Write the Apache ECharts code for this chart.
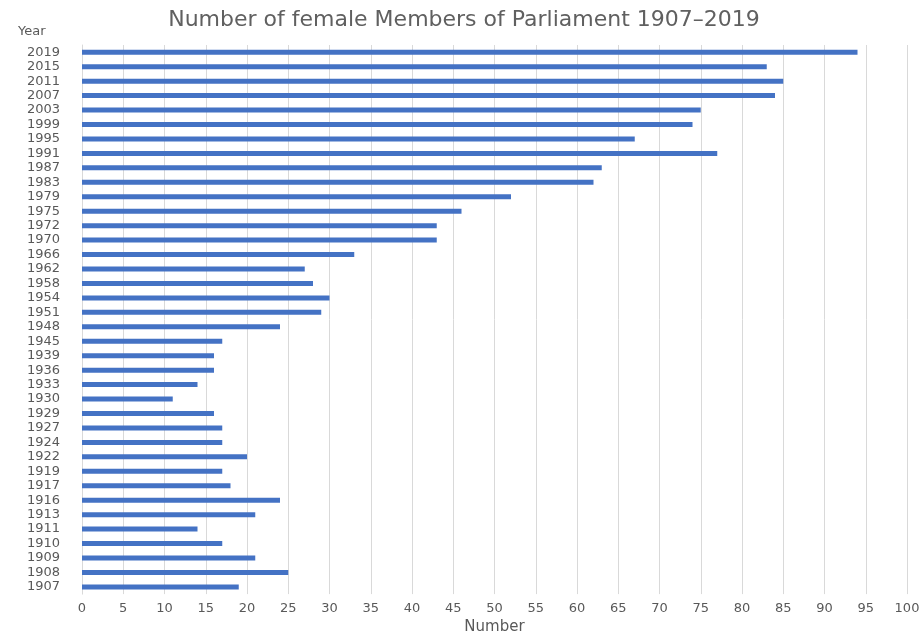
<!DOCTYPE html>
<html>
<head>
<meta charset="utf-8">
<script src="https://cdn.jsdelivr.net/npm/echarts@6/dist/echarts.min.js"></script>
<style>html,body{margin:0;padding:0;background:#fff}#c{width:923px;height:640px}</style>
</head>
<body>
<div id="c"></div>
<script>
const years = ['1907','1908','1909','1910','1911','1913','1916','1917','1919','1922','1924','1927','1929','1930','1933','1936','1939','1945','1948','1951','1954','1958','1962','1966','1970','1972','1975','1979','1983','1987','1991','1995','1999','2003','2007','2011','2015','2019'];
const womenMPs = [19,25,21,17,14,21,24,18,17,20,17,17,16,11,14,16,16,17,24,29,30,28,27,33,43,43,46,52,62,63,77,67,74,75,84,85,83,94];
const titleText = 'Number of female Members of Parliament 1907\u20132019';
const xAxisName = 'Number';
const yAxisName = 'Year';

const FONT = 'DejaVu Sans';
const chart = echarts.init(document.getElementById('c'));
chart.setOption({
  animation: false,
  backgroundColor: '#fff',
  title: {
    text: titleText,
    left: 459, textAlign: 'center',
    top: 4,
    textStyle: {color: '#606060', fontSize: 22, fontWeight: 'normal', fontFamily: FONT}
  },
  graphic: [{
    type: 'text', left: 18, top: 25,
    style: {text: yAxisName, fill: '#595959', fontSize: 13, fontFamily: FONT}
  }],
  grid: {left: 82, right: 16, top: 45, bottom: 36},
  xAxis: {
    type: 'value', min: 0, max: 100, interval: 5,
    name: xAxisName, nameLocation: 'middle', nameGap: 23,
    nameTextStyle: {color: '#595959', fontSize: 15, fontFamily: FONT},
    axisLine: {show: false}, axisTick: {show: false},
    axisLabel: {color: '#595959', fontSize: 13, fontFamily: FONT, margin: 8},
    splitLine: {lineStyle: {color: '#d9d9d9', width: 1}}
  },
  yAxis: {
    type: 'category', data: years,
    axisLine: {show: true, lineStyle: {color: '#d9d9d9'}},
    axisTick: {show: false},
    axisLabel: {color: '#595959', fontSize: 13, fontFamily: FONT, margin: 22, interval: 0}
  },
  series: [{
    type: 'bar', data: womenMPs, barWidth: 5,
    itemStyle: {color: '#4472C4'}
  }]
});
</script>
</body>
</html>
